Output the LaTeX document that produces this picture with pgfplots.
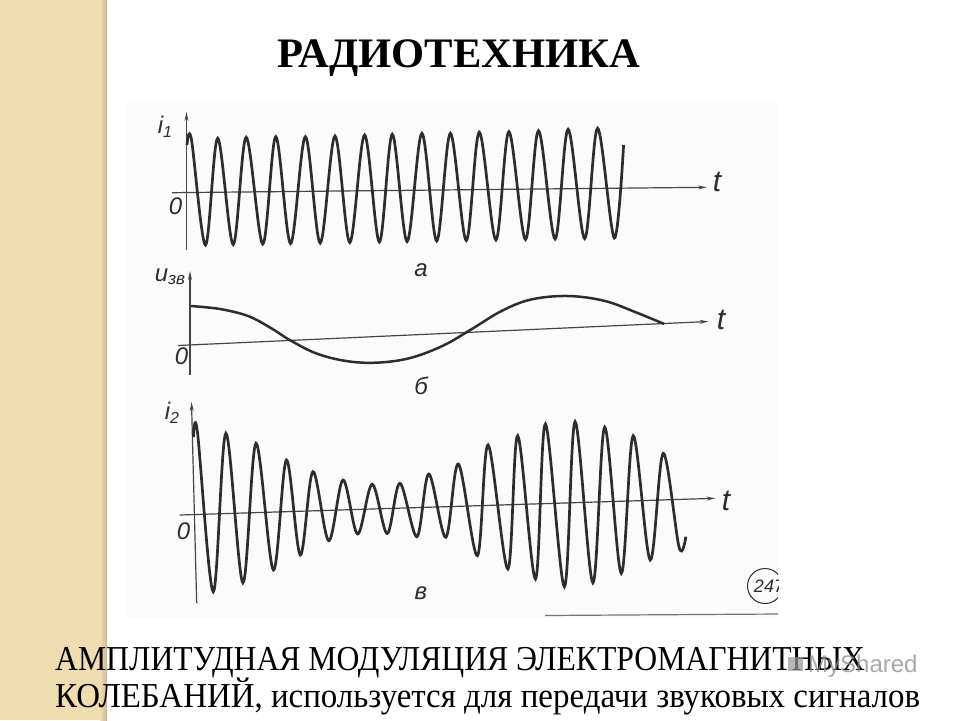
\documentclass[border=0pt]{standalone}
\usepackage{fontspec}
\setmainfont{Liberation Serif}
\newfontfamily\lab{Liberation Sans}
\usepackage{graphicx}
\usepackage{pgfplots}
\pgfplotsset{compat=1.18}
\usetikzlibrary{arrows.meta}
\definecolor{beige}{RGB}{239,221,176}
\definecolor{ink}{RGB}{45,45,45}
\definecolor{axink}{RGB}{70,70,70}
\begin{document}
\begin{tikzpicture}
\begin{axis}[at={(0,0)},anchor=south west,
  width=960pt,height=720pt,scale only axis,
  xmin=0,xmax=960,ymin=0,ymax=720,y dir=reverse,
  hide axis,clip=false]
% background
\fill[white] (axis cs:0,0) rectangle (axis cs:960,720);
\fill[beige] (axis cs:0,0) rectangle (axis cs:106,720);
\shade[left color=beige,right color=beige!80!black!90] (axis cs:100,0) rectangle (axis cs:107,720);
\fill[black!1.5] (axis cs:127,103) rectangle (axis cs:778,618);
% ---------- panel a ----------
\addplot[axink,line width=1.2pt,-{Stealth[length=9pt,width=4pt]}] coordinates {(172,192.7) (706.8,187.3)};
\addplot[axink,line width=1.2pt,-{Stealth[length=9pt,width=4pt]}] coordinates {(186.5,250) (186.5,112)};
\addplot[ink,line width=2.7pt,smooth,tension=0.55] coordinates {
(187,145)
(191.4,139.3) (205.5,245)
(217.7,138.3) (233.2,244.5)
(246.2,137.3) (262.8,244)
(275.8,136.7) (290.6,243.5)
(305.4,136.7) (320.2,243)
(335,136) (349.8,242.5)
(364.6,135) (379.4,242)
(392.3,134.3) (407.1,241.5)
(421.9,133.3) (436.7,241)
(450.4,133.3) (466.3,240.5)
(479.3,132.3) (495.9,240)
(508.9,131.7) (525.5,239.5)
(538.5,130.7) (555.1,239)
(568.1,129.3) (584.7,238.5)
(597.6,128.3) (614.3,238)
(623.6,145)};
% ---------- panel b ----------
\addplot[axink,line width=1.2pt,-{Stealth[length=9pt,width=4pt]}] coordinates {(178,345.5) (708.6,321.5)};
\addplot[axink,line width=1.2pt,-{Stealth[length=9pt,width=4pt]}] coordinates {(190,375) (190,271)};
\addplot[ink,line width=2.5pt,smooth,tension=0.6] coordinates {
(190.7,306) (220,309) (248,316) (270,327.5) (290.6,340.5) (316.5,353.5) (346.1,361)
(375.7,362.7) (409,358.3) (442.3,346) (471.9,329) (501.5,311) (531.1,299.5)
(568,296) (605,301) (638.3,313.3) (664.2,324)};
% ---------- panel c ----------
\addplot[axink,line width=1.2pt,-{Stealth[length=9pt,width=4pt]}] coordinates {(179.7,515) (715.4,498.3)};
\addplot[axink,line width=1.2pt,-{Stealth[length=9pt,width=4pt]}] coordinates {(196.7,603.3) (191.5,402)};
\addplot[ink,line width=2.7pt,smooth,tension=0.55] coordinates {
(193.5,437)
(197.4,431.7) (213.3,591.7)
(225.9,433.3) (242.9,582.7)
(256,443.3) (273.4,570)
(286.4,460) (300.3,555)
(312.9,471.7) (328.7,540.7)
(343,480) (357.6,534)
(372.2,484.3) (387.2,533.5)
(399.9,483.3) (416.9,536.7)
(428.8,474) (445.8,537.3)
(458.4,464) (477.4,555.7)
(488.1,445) (507.9,569)
(517.7,435.7) (535.5,579)
(545.4,424) (564.4,586.7)
(575.1,421.7) (592.9,582.7)
(604.7,427.3) (621.3,573.3)
(633.2,435.7) (650.2,560)
(663.2,453.3) (679.1,547.3)
(685.8,536.7)};
% ---------- labels ----------
\begin{scope}[every node/.style={text=ink,font=\lab\itshape\fontsize{24}{24}\selectfont,inner sep=0}]
\node at (axis cs:165,127) {i\raisebox{-4pt}{\fontsize{16}{16}\selectfont 1}};
\node at (axis cs:175.5,206.5) {0};
\node[font=\lab\itshape\fontsize{30}{30}\selectfont] at (axis cs:717,182) {t};
\node at (axis cs:421,270) {а};
\node at (axis cs:170,277) {u\raisebox{-3pt}{\fontsize{17}{17}\selectfont зв}};
\node at (axis cs:181.5,356.5) {0};
\node[font=\lab\itshape\fontsize{30}{30}\selectfont] at (axis cs:721,320) {t};
\node at (axis cs:421,386) {б};
\node at (axis cs:172,413) {i\raisebox{-4pt}{\fontsize{16}{16}\selectfont 2}};
\node at (axis cs:183.5,531.5) {0};
\node[font=\lab\itshape\fontsize{30}{30}\selectfont] at (axis cs:726,501) {t};
\node at (axis cs:421,593) {в};
\end{scope}
\begin{scope}
\clip (axis cs:730,550) rectangle (axis cs:778,612);
\draw[ink,line width=1pt] (axis cs:765,586) circle[radius=17.5pt];
\node[text=ink,font=\lab\itshape\fontsize{18}{18}\selectfont,inner sep=0] at (axis cs:769,586) {247};
\end{scope}
\addplot[black!55,line width=1.2pt] coordinates {(545,615.5) (778,614)};
% ---------- texts ----------
\node[anchor=base,inner sep=0] at (axis cs:459,67.7)
  {\resizebox{362pt}{\height}{\bfseries\fontsize{42}{42}\selectfont РАДИОТЕХНИКА}};
\node[anchor=base west,inner sep=0] at (axis cs:55,670)
  {\resizebox{810pt}{\height}{\fontsize{35}{35}\selectfont АМПЛИТУДНАЯ МОДУЛЯЦИЯ ЭЛЕКТРОМАГНИТНЫХ}};
\node[anchor=base west,inner sep=0] at (axis cs:55,707)
  {\resizebox{865pt}{\height}{\fontsize{35}{35}\selectfont КОЛЕБАНИЙ, используется для передачи звуковых сигналов}};
\fill[black!40,opacity=0.7] (axis cs:788,657) rectangle (axis cs:803,671);
\node[anchor=base west,inner sep=0,text=black!45,opacity=0.75] at (axis cs:808,672)
  {\lab\fontsize{24}{24}\selectfont MyShared};
\end{axis}
\end{tikzpicture}
\end{document}
